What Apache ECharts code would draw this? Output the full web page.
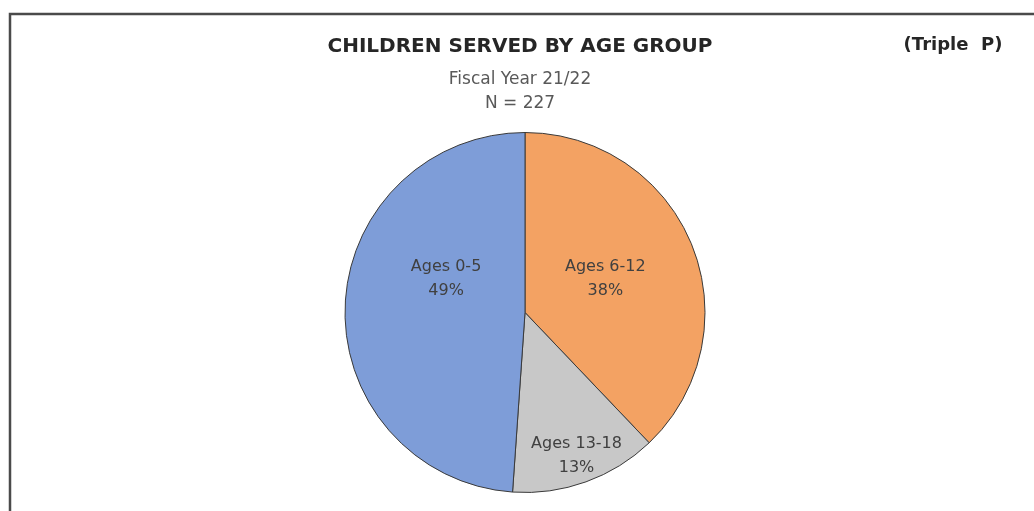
<!DOCTYPE html>
<html>
<head>
<meta charset="utf-8">
<script src="https://cdn.jsdelivr.net/npm/echarts@6/dist/echarts.min.js"></script>
<style>
html,body{margin:0;padding:0;background:#fff;}
#chart{width:1034px;height:511px;}
</style>
</head>
<body>
<div id="chart"></div>
<script>
// Data (clockwise from 12 o'clock, as drawn)
const categories = ['Ages 6-12', 'Ages 13-18', 'Ages 0-5'];
const counts = [86, 30, 111];
const percentLabels = ['38%', '13%', '49%'];
const titleText = 'CHILDREN SERVED BY AGE GROUP';
const subtitleLines = ['Fiscal Year 21/22', 'N = 227'];
const cornerNote = '(Triple  P)';

const colors = ['#F3A263', '#C8C8C8', '#7E9DD8'];
const labelOffsets = [[-6, 1], [20, 56], [14, -30]];

const chart = echarts.init(document.getElementById('chart'));
chart.setOption({
  backgroundColor: '#fff',
  animation: false,
  title: [
    {
      text: titleText,
      left: 515, top: 32, textAlign: 'center',
      textStyle: {fontFamily: 'DejaVu Sans', fontWeight: 'bold', fontSize: 20, color: '#262626'}
    },
    {
      text: subtitleLines.join('\n'),
      left: 515, top: 63, textAlign: 'center',
      textStyle: {fontFamily: 'DejaVu Sans', fontWeight: 'normal', fontSize: 17, color: '#595959', lineHeight: 24}
    },
    {
      text: cornerNote,
      left: 948, top: 31, textAlign: 'center',
      textStyle: {fontFamily: 'DejaVu Sans', fontWeight: 'bold', fontSize: 18, color: '#262626'}
    }
  ],
  graphic: [{
    type: 'rect',
    shape: {x: 10, y: 14, width: 1200, height: 700},
    style: {fill: 'none', stroke: '#4a4a4a', lineWidth: 2.5},
    silent: true
  }],
  series: [{
    type: 'pie',
    center: [525, 312.5],
    radius: [0, 180],
    startAngle: 90,
    clockwise: true,
    avoidLabelOverlap: false,
    itemStyle: {borderColor: '#3a3a3a', borderWidth: 1},
    label: {
      show: true,
      position: 'inside',
      fontFamily: 'DejaVu Sans',
      fontSize: 16,
      color: '#404040',
      lineHeight: 24,
      formatter: function (p) { return p.name + '\n' + percentLabels[p.dataIndex]; }
    },
    labelLine: {show: false},
    emphasis: {disabled: true},
    data: categories.map(function (c, i) {
      return {
        name: c, value: counts[i],
        itemStyle: {color: colors[i]},
        label: {offset: labelOffsets[i]}
      };
    })
  }]
});
</script>
</body>
</html>
